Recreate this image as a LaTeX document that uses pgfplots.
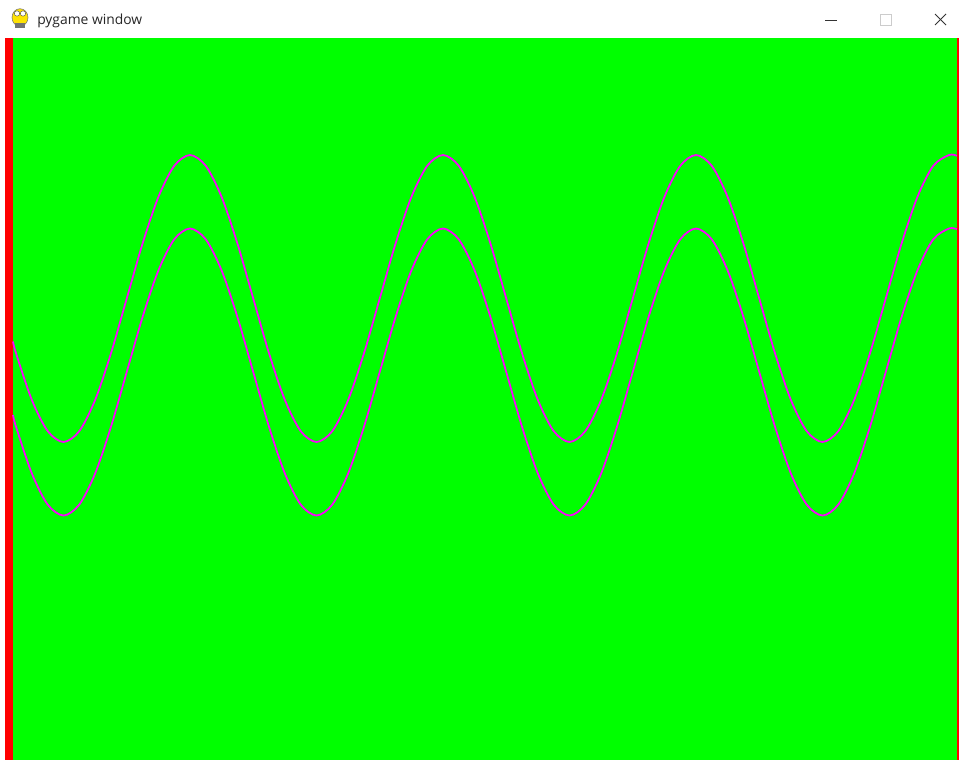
\documentclass[border=0pt]{standalone}
\usepackage{pgfplots}
\pgfplotsset{compat=1.18}
\usepackage{fontspec}
\setmainfont{Open Sans}
\definecolor{pgreen}{HTML}{00FF00}
\definecolor{pred}{HTML}{FF0000}
\definecolor{pmag}{HTML}{FF00FF}
\begin{document}
\begin{tikzpicture}
\begin{axis}[
  width=719.25pt, height=570pt, scale only axis,
  xmin=0, xmax=959, ymin=0, ymax=760, y dir=reverse,
  hide axis, clip=true,
]
% window chrome and background
\fill[white] (axis cs:0,0) rectangle (axis cs:959,760);
\fill[pred] (axis cs:5,38) rectangle (axis cs:13,760);
\fill[pgreen] (axis cs:13,38) rectangle (axis cs:957,760);
\fill[pred] (axis cs:957,38) rectangle (axis cs:959,760);
% title bar
\node[anchor=west, inner sep=0pt, font=\fontsize{10.4pt}{11pt}\selectfont, text=black!85] at (axis cs:37,20.5) {pygame window};
% icon
\fill[yellow!85!orange, draw=black!55, line width=0.4pt] (axis cs:20,17.5) ellipse [x radius=6.0pt, y radius=6.6pt];
\fill[white, draw=black!70, line width=0.3pt] (axis cs:17,13.5) circle [radius=2pt];
\fill[white, draw=black!70, line width=0.3pt] (axis cs:23,13.5) circle [radius=2pt];
\fill[black!55] (axis cs:15,23) rectangle (axis cs:25,28);
% window controls
\draw[black!80, line width=0.75pt] (axis cs:825,20) -- (axis cs:837,20);
\draw[black!20, line width=0.75pt] (axis cs:880,14) rectangle (axis cs:891,25);
\draw[black!80, line width=0.75pt] (axis cs:935,14) -- (axis cs:946,25);
\draw[black!80, line width=0.75pt] (axis cs:935,25) -- (axis cs:946,14);
% upper wave
\addplot[pmag, line width=1.3pt, smooth, tension=0.5] coordinates {
(13,341.5) (16.06,353.4) (31.88,400.0) (47.69,431.1) (63.50,442.0) (79.31,431.1) (95.13,400.0) (110.94,353.4)
(126.75,298.5) (142.56,243.6) (158.38,197.0) (174.19,165.9) (190,155.0) (205.81,165.9) (221.63,197.0) (237.44,243.6)
(253.25,298.5) (269.06,353.4) (284.88,400.0) (300.69,431.1) (316.5,442.0) (332.31,431.1) (348.13,400.0) (363.94,353.4)
(379.75,298.5) (395.56,243.6) (411.38,197.0) (427.19,165.9) (443,155.0) (458.81,165.9) (474.63,197.0) (490.44,243.6)
(506.25,298.5) (522.06,353.4) (537.88,400.0) (553.69,431.1) (569.5,442.0) (585.31,431.1) (601.13,400.0) (616.94,353.4)
(632.75,298.5) (648.56,243.6) (664.38,197.0) (680.19,165.9) (696,155.0) (711.81,165.9) (727.63,197.0) (743.44,243.6)
(759.25,298.5) (775.06,353.4) (790.88,400.0) (806.69,431.1) (822.5,442.0) (838.31,431.1) (854.13,400.0) (869.94,353.4)
(885.75,298.5) (901.56,243.6) (917.38,197.0) (933.19,165.9) (949,155.0) (957,155.8)
};
% lower wave
\addplot[pmag, line width=1.3pt, smooth, tension=0.5] coordinates {
(13,415.0) (16.06,426.9) (31.88,473.5) (47.69,504.6) (63.50,515.5) (79.31,504.6) (95.13,473.5) (110.94,426.9)
(126.75,372.0) (142.56,317.1) (158.38,270.5) (174.19,239.4) (190,228.5) (205.81,239.4) (221.63,270.5) (237.44,317.1)
(253.25,372.0) (269.06,426.9) (284.88,473.5) (300.69,504.6) (316.5,515.5) (332.31,504.6) (348.13,473.5) (363.94,426.9)
(379.75,372.0) (395.56,317.1) (411.38,270.5) (427.19,239.4) (443,228.5) (458.81,239.4) (474.63,270.5) (490.44,317.1)
(506.25,372.0) (522.06,426.9) (537.88,473.5) (553.69,504.6) (569.5,515.5) (585.31,504.6) (601.13,473.5) (616.94,426.9)
(632.75,372.0) (648.56,317.1) (664.38,270.5) (680.19,239.4) (696,228.5) (711.81,239.4) (727.63,270.5) (743.44,317.1)
(759.25,372.0) (775.06,426.9) (790.88,473.5) (806.69,504.6) (822.5,515.5) (838.31,504.6) (854.13,473.5) (869.94,426.9)
(885.75,372.0) (901.56,317.1) (917.38,270.5) (933.19,239.4) (949,228.5) (957,229.3)
};
\end{axis}
\end{tikzpicture}
\end{document}
